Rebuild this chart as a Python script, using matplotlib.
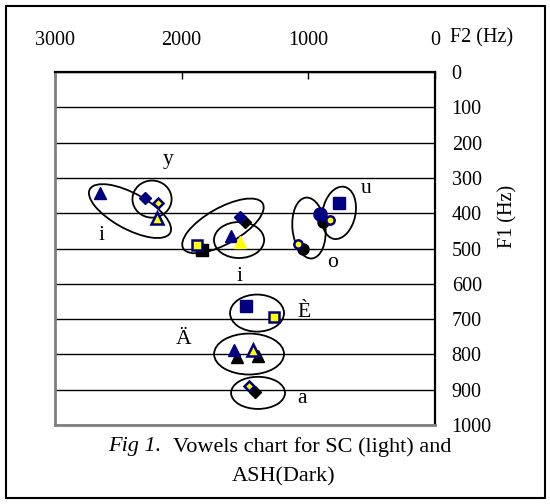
import matplotlib.pyplot as plt
from matplotlib.patches import Ellipse, Rectangle

plt.rcParams["font.family"] = ["Liberation Serif", "DejaVu Serif"]

NAVY = "#000080"
YELLOW = "#FFFF00"

# navy (filled) markers: F2 (Hz), F1 (Hz)
navy_tri_f2 = [2645, 1611, 1587]
navy_tri_f1 = [343, 465, 788]
navy_dia_f2 = [2289, 1539]
navy_dia_f1 = [357, 411]
navy_sq_f2 = [758, 1492]
navy_sq_f1 = [371, 663]
navy_circ_f2 = [908]
navy_circ_f1 = [402]

# yellow markers with navy edge
yel_dia_f2 = [2187, 1468]
yel_dia_f1 = [371, 890]
yel_tri_f2 = [2195, 1437]
yel_tri_f1 = [414, 788]
yel_sq_f2 = [1879, 1271]
yel_sq_f1 = [490, 694]
yel_circ_f2 = [829, 1082]
yel_circ_f1 = [419, 487]
# yellow triangle without edge
yel_tri2_f2 = [1539]
yel_tri2_f1 = [482]

# black shadow markers
blk_dia_f2 = [1500, 1421]
blk_dia_f1 = [425, 907]
blk_sq_f2 = [1839]
blk_sq_f1 = [504]
blk_circ_f2 = [884, 1042]
blk_circ_f1 = [425, 501]
blk_tri_f2 = [1563, 1397]
blk_tri_f1 = [807, 805]

# vowel labels
vowels = ["y", "i", "i", "u", "o", "È", "Ä", "a"]
vowel_f2 = [2108, 2629, 1547, 545, 805, 1034, 1982, 1050]
vowel_f1 = [249, 462, 578, 329, 541, 680, 759, 924]

# group outlines: centre (F2, F1), width/height as axes fraction, angle
groups_f2 = [2234, 2408, 1674, 1547, 995, 758, 1405, 1468, 1397]
groups_f1 = [360, 394, 436, 476, 442, 399, 683, 799, 909]
groups_w = [0.103, 0.245, 0.245, 0.132, 0.087, 0.087, 0.142, 0.184, 0.142]
groups_h = [0.105, 0.100, 0.100, 0.102, 0.173, 0.150, 0.105, 0.116, 0.091]
groups_ang = [0, -31, 32, 0, 5, -10, 0, 0, 0]

fig = plt.figure(figsize=(5.5, 5.04), dpi=100)
ax = fig.add_axes([55 / 550, 1 - 425 / 504, 380 / 550, 353 / 504])

ax.set_xlim(3000, 0)
ax.set_ylim(1000, 0)

# outlines
for f2, f1, w, h, a in zip(groups_f2, groups_f1, groups_w, groups_h, groups_ang):
    u = (3000 - f2) / 3000
    v = 1 - f1 / 1000
    ax.add_patch(Ellipse((u, v), w, h, angle=a, transform=ax.transAxes,
                         fill=False, ec="black", lw=1.3, zorder=2))

# shadows
ax.plot(blk_dia_f2, blk_dia_f1, "D", ms=6, color="black", zorder=3)
ax.plot(blk_sq_f2, blk_sq_f1, "s", ms=8, color="black", zorder=3)
ax.plot(blk_circ_f2, blk_circ_f1, "o", ms=8, color="black", zorder=3)
ax.plot(blk_tri_f2, blk_tri_f1, "^", ms=9, color="black", zorder=3)

# navy
ax.plot(navy_tri_f2, navy_tri_f1, "^", ms=9, color=NAVY, zorder=4)
ax.plot(navy_dia_f2, navy_dia_f1, "D", ms=6, color=NAVY, zorder=4)
ax.plot(navy_sq_f2, navy_sq_f1, "s", ms=8, color=NAVY, zorder=4)
ax.plot(navy_circ_f2, navy_circ_f1, "o", ms=9.5, color=NAVY, zorder=4)

# yellow
ax.plot(yel_dia_f2, yel_dia_f1, "D", ms=5, mfc=YELLOW, mec=NAVY, mew=1.8, zorder=5)
ax.plot(yel_tri_f2, yel_tri_f1, "^", ms=8, mfc=YELLOW, mec=NAVY, mew=1.8, zorder=5)
ax.plot(yel_sq_f2, yel_sq_f1, "s", ms=7, mfc=YELLOW, mec=NAVY, mew=1.8, zorder=5)
ax.plot(yel_circ_f2, yel_circ_f1, "o", ms=6, mfc=YELLOW, mec=NAVY, mew=1.8, zorder=5)
ax.plot(yel_tri2_f2, yel_tri2_f1, "^", ms=9, color=YELLOW, zorder=5)

for t, f2, f1 in zip(vowels, vowel_f2, vowel_f1):
    ax.text(f2, f1, t, fontsize=15.5, ha="center", va="center", zorder=6)

# axes styling
ax.set_xticks([3000, 2000, 1000, 0])
ax.set_yticks(range(0, 1001, 100))
ax.xaxis.tick_top()
ax.yaxis.tick_right()
ax.tick_params(axis="x", direction="in", length=5, width=1, pad=16, labelsize=14.5)
ax.tick_params(axis="y", length=0, pad=12, labelsize=14.5)
ax.grid(axis="y", color="black", lw=1)
ax.set_axisbelow(True)
for s in ["top", "right"]:
    ax.spines[s].set_color("black")
    ax.spines[s].set_linewidth(1.6)
for s in ["left", "bottom"]:
    ax.spines[s].set_color("#808080")
    ax.spines[s].set_linewidth(2)

fig.text(450 / 550, 1 - 38 / 504, "F2 (Hz)", fontsize=14.5, ha="left", va="center")
fig.text(508 / 550, 1 - 216 / 504, "F1 (Hz)", fontsize=14.5, ha="center",
         va="center", rotation=90)

# caption
fig.text(108 / 550, 1 - 447 / 504, "Fig 1.", fontsize=16, fontstyle="italic",
         ha="left", va="center")
fig.text(173 / 550, 1 - 447 / 504, "Vowels chart for SC (light) and",
         fontsize=16, ha="left", va="center")
fig.text(284 / 550, 1 - 477 / 504, "ASH(Dark)", fontsize=16, ha="center", va="center")

fig.patches.append(Rectangle((6 / 550, 6 / 504), 539 / 550, 492 / 504,
                             transform=fig.transFigure, fill=False,
                             ec="black", lw=1.5))

plt.savefig("out.png", dpi=100)
